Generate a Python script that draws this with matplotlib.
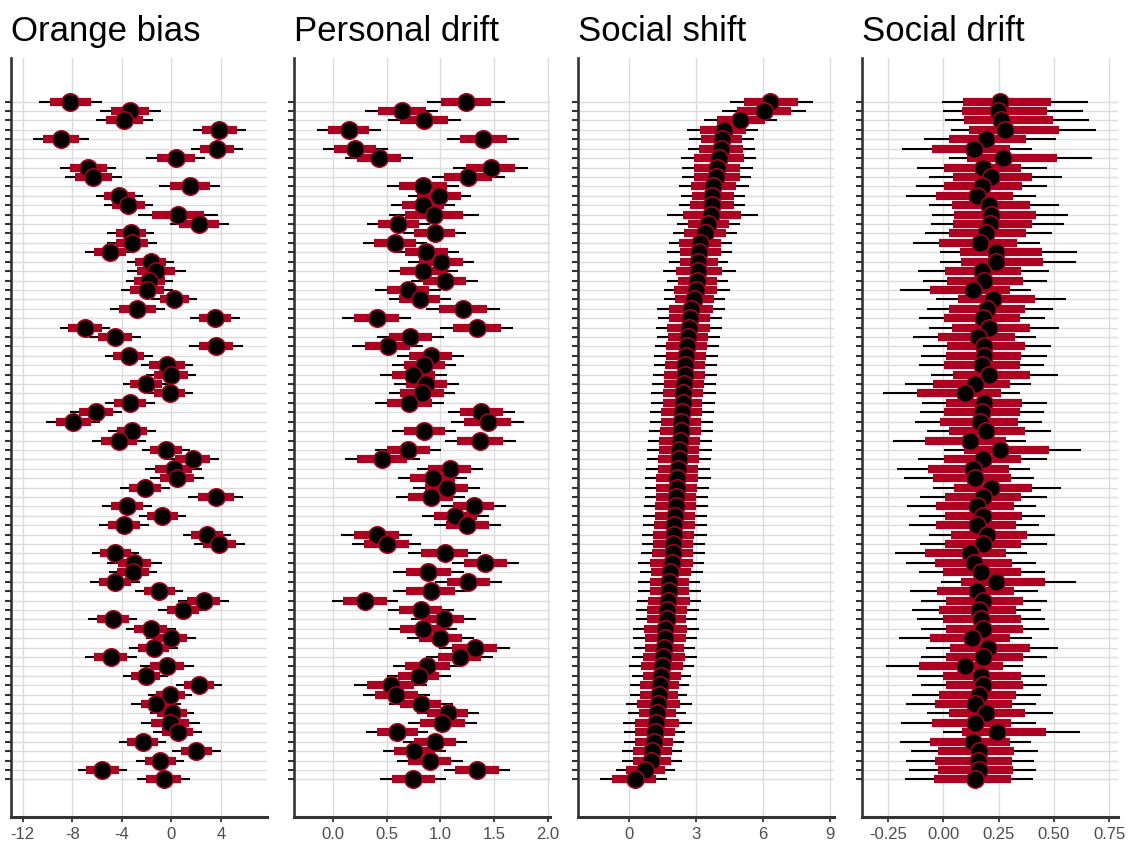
import numpy as np
import matplotlib
matplotlib.use("Agg")
import matplotlib.pyplot as plt

plt.rcParams["font.family"] = ["Liberation Sans", "DejaVu Sans"]
plt.rcParams["axes.unicode_minus"] = False

# ---------------- data: one row per participant (top to bottom) ----------------
orange_est = [-8.16, -3.32, -3.81, 3.89, -8.91, 3.67, 0.35, -6.70, -6.30, 1.51,
              -4.19, -3.46, 0.57, 2.27, -3.27, -3.19, -4.94, -1.67, -1.22, -1.78,
              -1.97, 0.24, -2.73, 3.51, -6.97, -4.54, 3.62, -3.43, -0.35, -0.03,
              -2.05, -0.13, -3.32, -6.08, -7.92, -3.16, -4.19, -0.43, 1.73, 0.19,
              0.46, -2.11, 3.59, -3.57, -0.73, -3.84, 2.89, 3.89, -4.51, -2.97,
              -3.10, -4.54, -0.97, 2.62, 0.92, -4.73, -1.65, -0.03, -1.43, -4.89,
              -0.35, -2.08, 2.24, -0.08, -1.24, 0.05, -0.08, 0.51, -2.32, 2.03,
              -0.89, -5.57, -0.62]
orange_hw66 = [1.65, 1.55, 1.49, 1.39, 1.46, 1.38, 1.53, 1.49, 1.51, 1.59,
               1.23, 1.31, 2.11, 1.61, 1.23, 1.30, 1.30, 1.22, 1.53, 1.24,
               1.38, 1.18, 1.49, 1.28, 1.35, 1.39, 1.39, 1.24, 1.42, 1.35,
               1.28, 1.23, 1.28, 1.35, 1.42, 1.24, 1.45, 1.26, 1.42, 1.47,
               1.38, 1.31, 1.45, 1.30, 1.24, 1.28, 1.26, 1.32, 1.28, 1.35,
               1.30, 1.28, 1.24, 1.35, 1.28, 1.28, 1.32, 1.28, 1.28, 1.31,
               1.38, 1.20, 1.22, 1.15, 1.24, 1.19, 1.53, 1.28, 1.22, 1.28,
               1.26, 1.31, 1.39]
orange_hw95 = [2.54, 2.46, 2.30, 2.15, 2.26, 2.11, 2.39, 2.27, 2.30, 2.46,
               1.92, 2.01, 3.24, 2.41, 1.89, 2.00, 2.03, 1.89, 2.39, 1.88,
               2.08, 1.84, 2.23, 2.03, 2.03, 2.12, 2.16, 1.92, 2.11, 2.00,
               1.88, 1.86, 2.00, 2.09, 2.19, 1.91, 2.19, 1.92, 2.14, 2.28,
               2.16, 2.03, 2.20, 2.04, 1.88, 2.01, 1.97, 2.03, 1.88, 2.22,
               1.93, 2.03, 1.93, 2.08, 1.96, 1.99, 2.03, 2.00, 1.96, 2.09,
               2.16, 1.82, 1.89, 1.78, 2.03, 1.78, 2.36, 1.95, 1.91, 1.99,
               1.93, 1.99, 2.16]

personal_est = [1.24, 0.64, 0.85, 0.15, 1.40, 0.21, 0.43, 1.47, 1.26, 0.84,
                0.99, 0.84, 0.94, 0.61, 0.95, 0.58, 0.87, 1.01, 0.84, 1.04,
                0.70, 0.81, 1.21, 0.41, 1.34, 0.72, 0.51, 0.91, 0.85, 0.75,
                0.87, 0.83, 0.71, 1.38, 1.44, 0.85, 1.37, 0.70, 0.46, 1.09,
                0.93, 1.06, 0.91, 1.31, 1.14, 1.25, 0.41, 0.50, 1.04, 1.42,
                0.89, 1.26, 0.91, 0.30, 0.82, 1.03, 0.84, 1.00, 1.32, 1.18,
                0.88, 0.80, 0.54, 0.59, 0.82, 1.07, 1.02, 0.60, 0.95, 0.76,
                0.90, 1.34, 0.75]
personal_hw66 = [0.236, 0.223, 0.222, 0.191, 0.220, 0.194, 0.205, 0.228, 0.222, 0.220,
                 0.202, 0.192, 0.268, 0.192, 0.191, 0.194, 0.199, 0.205, 0.213, 0.202,
                 0.197, 0.191, 0.220, 0.21, 0.22, 0.20, 0.21, 0.20, 0.19, 0.20,
                 0.19, 0.20, 0.21, 0.20, 0.22, 0.19, 0.21, 0.20, 0.23, 0.20,
                 0.21, 0.20, 0.21, 0.19, 0.20, 0.20, 0.21, 0.21, 0.22, 0.20,
                 0.21, 0.20, 0.23, 0.20, 0.20, 0.19, 0.21, 0.20, 0.21, 0.20,
                 0.21, 0.19, 0.22, 0.20, 0.191, 0.189, 0.213, 0.189, 0.197, 0.194,
                 0.197, 0.205, 0.200]
personal_hw95 = [0.360, 0.341, 0.338, 0.298, 0.334, 0.300, 0.313, 0.348, 0.338, 0.338,
                 0.293, 0.295, 0.416, 0.290, 0.292, 0.298, 0.303, 0.307, 0.321, 0.310,
                 0.303, 0.290, 0.341, 0.32, 0.34, 0.31, 0.33, 0.31, 0.30, 0.31,
                 0.30, 0.31, 0.32, 0.31, 0.34, 0.30, 0.33, 0.31, 0.35, 0.31,
                 0.32, 0.31, 0.32, 0.30, 0.31, 0.31, 0.33, 0.32, 0.34, 0.31,
                 0.33, 0.31, 0.35, 0.31, 0.31, 0.30, 0.32, 0.31, 0.33, 0.31,
                 0.32, 0.30, 0.34, 0.31, 0.295, 0.290, 0.323, 0.289, 0.295, 0.296,
                 0.307, 0.310, 0.306]

shift_est = [6.33, 6.06, 4.99, 4.23, 4.15, 4.11, 4.03, 3.93, 3.90, 3.78,
             3.73, 3.70, 3.67, 3.55, 3.40, 3.18, 3.13, 3.10, 3.08, 3.05,
             2.98, 2.92, 2.76, 2.72, 2.67, 2.63, 2.59, 2.55, 2.52, 2.49,
             2.46, 2.43, 2.40, 2.37, 2.34, 2.31, 2.28, 2.25, 2.22, 2.19,
             2.16, 2.13, 2.11, 2.08, 2.06, 2.03, 2.01, 1.98, 1.95, 1.90,
             1.83, 1.80, 1.78, 1.75, 1.71, 1.68, 1.63, 1.60, 1.57, 1.53,
             1.46, 1.42, 1.38, 1.35, 1.30, 1.26, 1.20, 1.15, 1.12, 1.04,
             1.00, 0.70, 0.25]
shift_lo66 = [5.13, 4.83, 3.93, 3.18, 3.22, 3.15, 2.92, 2.91, 2.91, 2.77,
              2.83, 2.73, 2.43, 2.65, 2.47, 2.25, 2.28, 2.28, 2.08, 2.20,
              2.02, 2.05, 1.80, 1.80, 1.72, 1.75, 1.66, 1.64, 1.60, 1.58,
              1.55, 1.50, 1.50, 1.45, 1.42, 1.40, 1.36, 1.33, 1.30, 1.28,
              1.22, 1.22, 1.20, 1.15, 1.14, 1.12, 1.08, 1.06, 1.03, 0.93,
              1.00, 0.93, 0.93, 0.85, 0.82, 0.81, 0.67, 0.73, 0.73, 0.63,
              0.52, 0.60, 0.51, 0.51, 0.37, 0.43, 0.25, 0.25, 0.25, 0.18,
              0.18, -0.15, -0.75]
shift_hi66 = [7.56, 7.27, 6.07, 5.25, 5.08, 5.10, 5.16, 4.95, 4.95, 4.80,
              4.68, 4.68, 5.01, 4.48, 4.33, 4.11, 4.11, 3.97, 4.18, 3.96,
              3.96, 3.82, 3.75, 3.62, 3.62, 3.52, 3.50, 3.45, 3.42, 3.38,
              3.36, 3.33, 3.28, 3.27, 3.24, 3.20, 3.18, 3.15, 3.12, 3.08,
              3.10, 3.02, 3.00, 2.98, 2.95, 2.93, 2.92, 2.88, 2.86, 2.85,
              2.77, 2.70, 2.70, 2.73, 2.61, 2.55, 2.61, 2.53, 2.47, 2.50,
              2.43, 2.32, 2.23, 2.17, 2.28, 2.10, 2.25, 2.05, 1.98, 1.90,
              1.86, 1.60, 1.20]
shift_lo95 = [4.53, 4.18, 3.36, 2.61, 2.70, 2.65, 2.31, 2.38, 2.38, 2.25,
              2.32, 2.23, 1.71, 2.13, 1.98, 1.78, 1.71, 1.80, 1.53, 1.72,
              1.56, 1.56, 1.26, 1.30, 1.22, 1.24, 1.16, 1.12, 1.10, 1.06,
              1.04, 1.00, 0.98, 0.95, 0.92, 0.88, 0.86, 0.82, 0.80, 0.77,
              0.72, 0.72, 0.69, 0.65, 0.63, 0.61, 0.58, 0.56, 0.52, 0.40,
              0.51, 0.40, 0.40, 0.36, 0.33, 0.33, 0.18, 0.18, 0.22, 0.15,
              0.00, 0.13, 0.03, 0.03, -0.12, -0.03, -0.27, -0.24, -0.24, -0.31,
              -0.31, -0.60, -1.29]
shift_hi95 = [8.23, 7.93, 6.63, 5.77, 5.61, 5.65, 5.70, 5.53, 5.47, 5.37,
              5.17, 5.17, 5.76, 4.98, 4.83, 4.63, 4.59, 4.42, 4.78, 4.45,
              4.50, 4.30, 4.30, 4.15, 4.18, 4.06, 4.04, 4.00, 3.96, 3.92,
              3.90, 3.88, 3.83, 3.80, 3.78, 3.75, 3.72, 3.70, 3.66, 3.62,
              3.68, 3.57, 3.55, 3.52, 3.50, 3.48, 3.47, 3.42, 3.40, 3.37,
              3.30, 3.18, 3.21, 3.21, 3.13, 3.03, 3.13, 3.03, 2.95, 3.03,
              2.91, 2.77, 2.70, 2.61, 2.80, 2.53, 2.80, 2.50, 2.46, 2.35,
              2.35, 2.05, 1.71]

drift_est = [0.255, 0.247, 0.259, 0.280, 0.194, 0.138, 0.271, 0.179, 0.214, 0.176,
             0.153, 0.206, 0.217, 0.212, 0.194, 0.164, 0.236, 0.239, 0.176, 0.186,
             0.133, 0.224, 0.196, 0.179, 0.205, 0.156, 0.186, 0.183, 0.174, 0.205,
             0.144, 0.098, 0.182, 0.176, 0.164, 0.194, 0.121, 0.255, 0.179, 0.133,
             0.144, 0.217, 0.179, 0.152, 0.179, 0.153, 0.197, 0.179, 0.121, 0.140,
             0.170, 0.240, 0.150, 0.180, 0.160, 0.170, 0.180, 0.130, 0.200, 0.180,
             0.100, 0.170, 0.180, 0.160, 0.141, 0.191, 0.141, 0.244, 0.136, 0.159,
             0.156, 0.159, 0.144]
drift_lo66 = [0.088, 0.085, 0.095, 0.115, 0.024, -0.052, 0.108, 0.005, 0.042, 0.002,
              -0.033, 0.039, 0.050, 0.042, 0.024, -0.018, 0.076, 0.080, 0.008, 0.017,
              -0.059, 0.065, 0.027, 0.005, 0.038, -0.023, 0.015, 0.012, 0.002, 0.042,
              -0.045, -0.117, 0.012, 0.005, -0.014, 0.027, -0.082, 0.092, 0.005, -0.068,
              -0.045, 0.050, 0.008, -0.033, 0.009, -0.033, 0.035, 0.009, -0.084, -0.040,
              0.000, 0.080, -0.030, 0.010, -0.020, 0.000, 0.010, -0.060, 0.030, 0.010,
              -0.110, 0.000, 0.010, -0.020, -0.036, 0.027, -0.053, 0.085, -0.059, -0.026,
              -0.038, -0.026, -0.041]
drift_hi66 = [0.485, 0.470, 0.497, 0.524, 0.376, 0.303, 0.512, 0.353, 0.403, 0.356,
              0.315, 0.394, 0.421, 0.402, 0.373, 0.333, 0.447, 0.452, 0.353, 0.361,
              0.300, 0.414, 0.371, 0.348, 0.394, 0.323, 0.368, 0.353, 0.345, 0.394,
              0.303, 0.262, 0.356, 0.345, 0.338, 0.371, 0.282, 0.477, 0.353, 0.297,
              0.308, 0.403, 0.353, 0.318, 0.356, 0.327, 0.379, 0.350, 0.282, 0.310,
              0.350, 0.460, 0.320, 0.360, 0.330, 0.350, 0.360, 0.300, 0.390, 0.360,
              0.270, 0.350, 0.360, 0.330, 0.312, 0.368, 0.308, 0.464, 0.300, 0.320,
              0.312, 0.315, 0.308]
drift_lo95 = [-0.006, -0.003, 0.009, 0.035, -0.089, -0.189, 0.024, -0.117, -0.064, -0.124,
              -0.167, -0.064, -0.053, -0.056, -0.082, -0.136, -0.015, -0.014, -0.114, -0.091,
              -0.197, -0.033, -0.076, -0.109, -0.064, -0.139, -0.091, -0.102, -0.112, -0.056,
              -0.173, -0.273, -0.098, -0.106, -0.129, -0.074, -0.226, 0.005, -0.114, -0.208,
              -0.177, -0.048, -0.105, -0.165, -0.109, -0.155, -0.067, -0.106, -0.220, -0.170,
              -0.110, -0.010, -0.150, -0.100, -0.140, -0.120, -0.100, -0.200, -0.080, -0.100,
              -0.260, -0.120, -0.100, -0.140, -0.167, -0.076, -0.192, -0.003, -0.195, -0.147,
              -0.167, -0.155, -0.174]
drift_hi95 = [0.653, 0.633, 0.661, 0.689, 0.508, 0.403, 0.674, 0.470, 0.535, 0.470,
              0.418, 0.523, 0.565, 0.547, 0.492, 0.439, 0.603, 0.598, 0.479, 0.471,
              0.398, 0.553, 0.494, 0.459, 0.523, 0.421, 0.486, 0.467, 0.456, 0.520,
              0.398, 0.345, 0.467, 0.456, 0.444, 0.489, 0.376, 0.623, 0.467, 0.391,
              0.411, 0.530, 0.467, 0.421, 0.462, 0.432, 0.505, 0.467, 0.380, 0.420,
              0.460, 0.600, 0.430, 0.470, 0.440, 0.460, 0.480, 0.400, 0.520, 0.470,
              0.360, 0.460, 0.470, 0.440, 0.417, 0.494, 0.417, 0.618, 0.395, 0.429,
              0.411, 0.418, 0.406]

panel_titles = ["Orange bias", "Personal drift", "Social shift", "Social drift"]
panel_ticks = [[-12, -8, -4, 0, 4],
               [0.0, 0.5, 1.0, 1.5, 2.0],
               [0, 3, 6, 9],
               [-0.25, 0.00, 0.25, 0.50, 0.75]]
panel_ticklabels = [["-12", "-8", "-4", "0", "4"],
                    ["0.0", "0.5", "1.0", "1.5", "2.0"],
                    ["0", "3", "6", "9"],
                    ["-0.25", "0.00", "0.25", "0.50", "0.75"]]
panel_xlim = [(-12.94, 7.73), (-0.36, 2.02), (-2.29, 9.18), (-0.368, 0.79)]

# ---------------- intervals per panel ----------------
def sym(est, hw):
    e, h = np.asarray(est), np.asarray(hw)
    return e - h, e + h

o66 = sym(orange_est, orange_hw66)
o95 = sym(orange_est, orange_hw95)
p66 = sym(personal_est, personal_hw66)
p95 = sym(personal_est, personal_hw95)

panels = [
    (orange_est, o66, o95),
    (personal_est, p66, p95),
    (shift_est, (shift_lo66, shift_hi66), (shift_lo95, shift_hi95)),
    (drift_est, (drift_lo66, drift_hi66), (drift_lo95, drift_hi95)),
]

RED = "#AE0020"
AXIS = "#333333"
GRID = "#DCDCDC"

W, H = 1130, 843
fig = plt.figure(figsize=(W / 100, H / 100), dpi=100)

lefts_px = [11, 294, 578, 862]
width_px = 256
top_px, bottom_px = 58, 817

for k, (est, iv66, iv95) in enumerate(panels):
    est = np.asarray(est)
    n = len(est)
    rows = np.arange(n)
    ax = fig.add_axes([lefts_px[k] / W, (H - bottom_px) / H,
                       width_px / W, (bottom_px - top_px) / H])

    ax.hlines(rows, iv95[0], iv95[1], color="black", lw=1.5,
              capstyle="butt", zorder=2)
    ax.hlines(rows, iv66[0], iv66[1], color=RED, lw=5.9,
              capstyle="butt", zorder=3)
    ax.scatter(est, rows, s=12.6 ** 2, facecolor="black", edgecolor=RED,
               linewidths=1.1, zorder=4)

    ax.set_ylim(76.0, -4.64)
    ax.set_xlim(*panel_xlim[k])
    ax.set_yticks(rows)
    ax.set_xticks(panel_ticks[k])
    ax.set_xticklabels(panel_ticklabels[k])

    ax.set_axisbelow(True)
    ax.grid(True, axis="y", color=GRID, lw=1.0)
    ax.grid(True, axis="x", color=GRID, lw=1.0)

    for side in ("top", "right"):
        ax.spines[side].set_visible(False)
    ax.spines["left"].set_color(AXIS)
    ax.spines["left"].set_linewidth(1.9)
    ax.spines["bottom"].set_color(AXIS)
    ax.spines["bottom"].set_linewidth(2.2)

    ax.tick_params(axis="y", length=4.0, width=1.5, color=AXIS,
                   labelleft=False)
    ax.tick_params(axis="x", length=3.5, width=1.3, color=AXIS,
                   labelsize=12, labelcolor="#4D4D4D", pad=3.5)

    ax.set_title(panel_titles[k], loc="left", fontsize=25, pad=12,
                 color="black")

fig.savefig("out.png", dpi=100)
